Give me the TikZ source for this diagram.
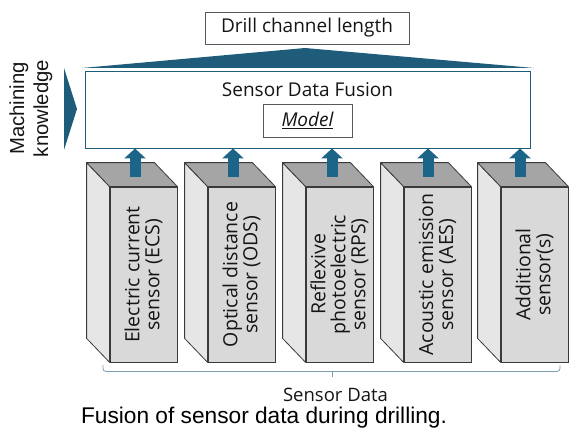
\documentclass[tikz,border=0pt]{standalone}
\usepackage{fontspec}
\setmainfont{Open Sans}
\newfontfamily\capfont{Liberation Sans}
\usetikzlibrary{arrows.meta,calc}

\definecolor{deepteal}{HTML}{1F5C7A}
\definecolor{arrowblue}{HTML}{1D6588}
\definecolor{edgegray}{HTML}{3A3A3A}
\definecolor{frontgray}{HTML}{D9D9D9}
\definecolor{sidegray}{HTML}{E6E6E6}
\definecolor{topgray}{HTML}{A5A5A5}
\definecolor{bracketblue}{HTML}{7F9DB2}
\definecolor{inkblack}{HTML}{151515}

\begin{document}
\begin{tikzpicture}[x=1pt,y=-1pt,
  textbox/.style={draw=#1, line width=0.9pt, fill=white, inner sep=0pt, text=inkblack},
  sensorfront/.style={draw=edgegray, fill=frontgray, line width=0.8pt,
    minimum width=67pt, minimum height=175pt, inner sep=0pt},
  sideface/.style={draw=edgegray, fill=sidegray, line width=0.8pt, line join=round},
  topface/.style={draw=edgegray, fill=topgray, line width=0.8pt, line join=round},
  sensorlabel/.style={rotate=90, align=center, text=inkblack,
    font=\fontsize{19.5}{20}\selectfont},
  uparrow/.style={arrowblue, line width=11pt,
    -{Triangle[width=21pt,length=10pt]}},
  bracketline/.style={draw=bracketblue, line width=0.8pt, rounded corners=3pt},
]
\useasboundingbox (0,0) rectangle (569,433);

% output quantity on top
\node[textbox=gray!70!black, minimum width=204pt, minimum height=32pt,
      font=\fontsize{19}{21}\selectfont] (drill) at (307,28) {Drill channel length};

% flat pointer from the fusion block up to the output
\coordinate (tl) at (82,68);
\coordinate (tr) at (534,68);
\fill[deepteal] (tl) -- (305,48) -- (tr) -- cycle;

% fusion block with the model inside
\node[textbox=deepteal, minimum width=445pt, minimum height=77pt] (fusion) at (307.5,109.5) {};
\node[anchor=base, text=inkblack, font=\fontsize{19}{21}\selectfont] (fusetitle) at (307.5,96) {Sensor Data Fusion};
\node[textbox=gray!70!black, minimum width=89pt, minimum height=33pt,
      font=\fontsize{19}{21}\itshape\selectfont] (model) at (307.5,120.5) {\underline{Model}};

% machining knowledge input
\fill[deepteal] (64,68) -- (77,109) -- (64,150) -- cycle;
\node[rotate=90, align=center, text=inkblack, inner sep=0pt,
      font=\capfont\fontsize{20.3}{24}\selectfont] (mk) at (31,108.5) {Machining\\knowledge};

% sensor boxes drawn as cuboids
\foreach \i/\cx in {1/143.5, 2/241.5, 3/339.5, 4/437.5, 5/534.5} {
  \node[sensorfront] (f\i) at (\cx,274.5) {};
  \draw[sideface] (f\i.north west) -- +(-23,-24)
        -- ($(f\i.south west)+(-23,-24)$) -- (f\i.south west) -- cycle;
  \draw[topface] (f\i.north west) -- +(-23,-24)
        -- ($(f\i.north east)+(-23,-24)$) -- (f\i.north east) -- cycle;
}

\node[sensorlabel] (l1) at (f1.center) {Electric current\\sensor (ECS)};
\node[sensorlabel] (l2) at (f2.center) {Optical distance\\sensor (ODS)};
\node[sensorlabel] (l3) at (f3.center) {Reflexive\\photoelectric\\sensor (RPS)};
\node[sensorlabel] (l4) at (f4.center) {Acoustic emission\\sensor (AES)};
\node[sensorlabel] (l5) at (f5.center) {Additional\\sensor(s)};

% data flow from each sensor into the fusion block
\foreach \i/\ax in {1/135, 2/233, 3/332, 4/428, 5/520} {
  \coordinate (a\i) at (\ax,177);
  \draw[uparrow] (a\i) -- (a\i |- fusion.south);
}

% bracket grouping the sensor data
\draw[bracketline] (103,365) -- (103,371.5) -- (560,371.5) -- (560,365);
\draw[draw=bracketblue, line width=0.8pt] (332,371.5) -- (332,377);
\node[anchor=base, text=inkblack, font=\fontsize{18.5}{20}\selectfont] (sdata) at (335.5,401) {Sensor Data};

% caption
\node[anchor=base, text=black, font=\capfont\fontsize{22.7}{26}\selectfont] (caption) at (264,423) {Fusion of sensor data during drilling.};
\end{tikzpicture}
\end{document}
